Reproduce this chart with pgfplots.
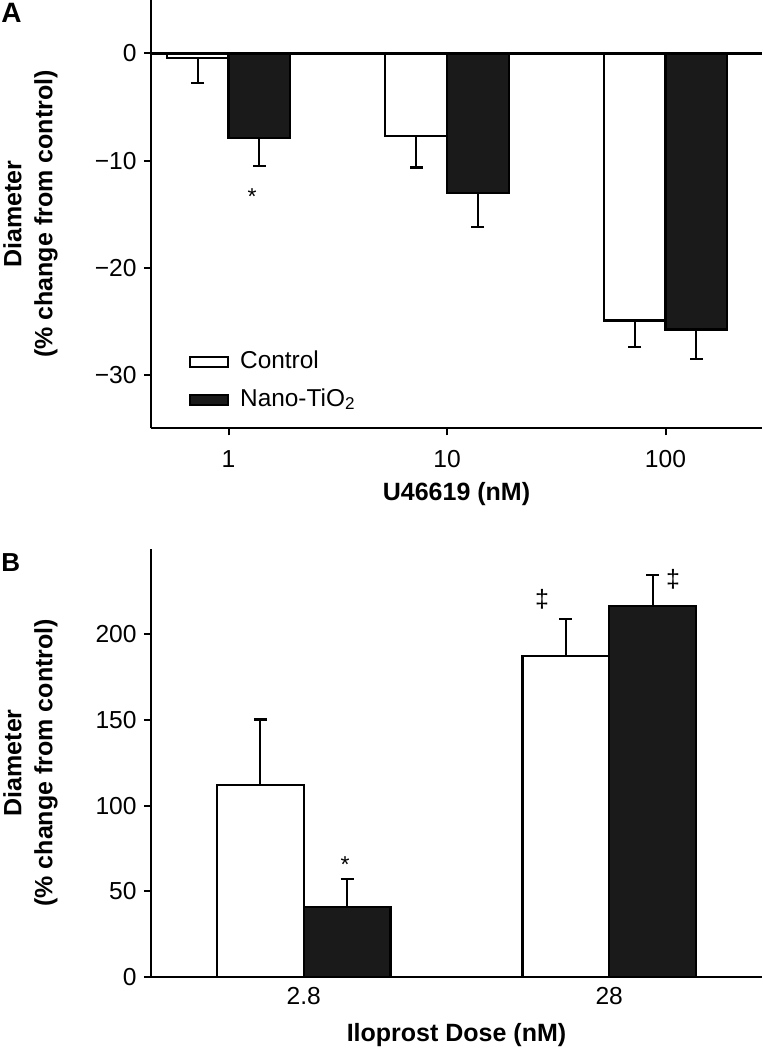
\documentclass[border=0pt]{standalone}
\usepackage{pgfplots}
\pgfplotsset{compat=1.18}
\usepackage{fontspec}
\setmainfont{Liberation Sans}
\definecolor{barblack}{RGB}{26,26,26}
\newcommand{\tickfont}{\fontsize{12.3}{14}\selectfont}
\newcommand{\labfont}{\fontsize{12.5}{15.5}\selectfont\bfseries}
\begin{document}
\begin{tikzpicture}
\useasboundingbox (0,0) rectangle (381.5pt,525pt);
\pgfplotsset{
  mystyle/.style={
    scale only axis, width=305.5pt, height=214.2pt,
    axis x line*=bottom, axis y line*=left,
    axis line style={line width=1.1pt},
    tick align=outside, major tick length=3.5pt,
    tick style={line width=1pt, black},
    bar shift=0pt,
    /pgf/number format/assume math mode=true,
    ticklabel style={font=\tickfont},
    yticklabel style={anchor=east, inner sep=0pt, xshift=-3.5pt},
    xlabel style={font=\labfont, anchor=base, inner sep=0pt},
    ylabel style={font=\labfont, align=center, anchor=south, inner sep=0pt, at={(rel axis cs:-0.1522,0.5)}},
    clip=false,
    legend style={draw=none, fill=none, font=\fontsize{12.2}{14}\selectfont,
      nodes={inner sep=1pt, text height=9pt, text depth=3pt}, row sep=5pt, column sep=4.5pt,
      cells={anchor=west}},
  },
  errdown/.style={error bars/.cd, y dir=minus, y explicit,
    error bar style={line width=1.1pt, black},
    error mark options={rotate=90, mark size=3.2pt, line width=1.1pt, black}},
  errup/.style={error bars/.cd, y dir=plus, y explicit,
    error bar style={line width=1.1pt, black},
    error mark options={rotate=90, mark size=3.2pt, line width=1.1pt, black}},
}
% ---------------- Panel A ----------------
\begin{axis}[mystyle, at={(75.5pt,310.85pt)}, anchor=south west,
  xmin=-0.3547, xmax=2.4416, ymin=-35, ymax=5,
  xtick={0,1,2}, xticklabels={1,10,100},
  xticklabel style={anchor=base, yshift=-16pt},
  ytick={-30,-20,-10,0}, yticklabels={−30,−20,−10,0},
  xlabel={U46619 (nM)},
  xlabel style={at={(rel axis cs:0.5,-0.1697)}},
  ylabel={Diameter\\(\% change from control)},
  legend style={at={(rel axis cs:0.052,0.197)}, anchor=north west},
]
\addlegendimage{legend image code/.code={\draw[fill=white, draw=black, line width=1pt] (0pt,-2.5pt) rectangle (19pt,2.5pt);}}
\addlegendentry{Control}
\addlegendimage{legend image code/.code={\draw[fill=barblack, draw=black, line width=1pt] (0pt,-2.5pt) rectangle (19pt,2.5pt);}}
\addlegendentry{Nano-TiO\textsubscript{2}}
\addplot[ybar, bar width=0.2825, fill=white, draw=black, line width=1.1pt, forget plot, errdown]
  coordinates {(-0.141,-0.44) +- (0,2.34) (0.859,-7.70) +- (0,2.95) (1.859,-24.93) +- (0,2.45)};
\addplot[ybar, bar width=0.2825, fill=barblack, draw=black, line width=1.1pt, forget plot, errdown]
  coordinates {(0.141,-7.89) +- (0,2.61) (1.141,-13.03) +- (0,3.17) (2.141,-25.77) +- (0,2.73)};
\draw[line width=1.1pt] (axis cs:-0.3547,0) -- (axis cs:2.4416,0);
\node[font=\fontsize{11.5}{12}\selectfont, anchor=north, inner sep=0pt] at (axis cs:0.1075,-12.62) {*};
\end{axis}
% ---------------- Panel B ----------------
\begin{axis}[mystyle, at={(75.5pt,36.5pt)}, anchor=south west,
  xmin=-0.5, xmax=1.5, ymin=0, ymax=250,
  xtick={0,1}, xticklabels={2.8,28}, xtick style={draw=none},
  xticklabel style={anchor=base, yshift=-10pt},
  ytick={0,50,100,150,200},
  xlabel={Iloprost Dose (nM)},
  xlabel style={at={(rel axis cs:0.5,-0.1516)}},
  ylabel={Diameter\\(\% change from control)},
]
\addplot[ybar, bar width=0.284, fill=white, draw=black, line width=1.1pt, errup]
  coordinates {(-0.142,112.2) +- (0,38.1) (0.858,187.3) +- (0,21.6)};
\addplot[ybar, bar width=0.284, fill=barblack, draw=black, line width=1.1pt, errup]
  coordinates {(0.142,41.0) +- (0,16.0) (1.142,216.3) +- (0,18.1)};
\node[font=\fontsize{11.5}{12}\selectfont, anchor=north, inner sep=0pt] at (axis cs:0.135,70.6) {*};
\node[font=\fontsize{12.5}{14}\selectfont, inner sep=0pt] at (axis cs:0.78,220.4) {‡};
\node[font=\fontsize{12.5}{14}\selectfont, inner sep=0pt] at (axis cs:1.2087,232.1) {‡};
\end{axis}
\node[font=\fontsize{14}{16}\selectfont\bfseries, anchor=base west, inner sep=0pt] at (0.5pt,513.5pt) {A};
\node[font=\fontsize{13}{15}\selectfont\bfseries, anchor=base west, inner sep=0pt] at (0.5pt,239.2pt) {B};
\end{tikzpicture}
\end{document}
